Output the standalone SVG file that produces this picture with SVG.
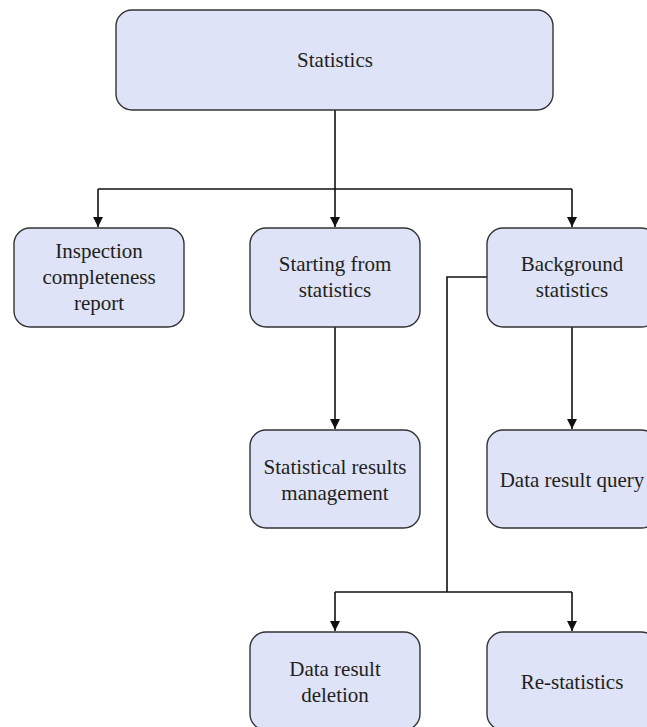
<svg xmlns="http://www.w3.org/2000/svg" width="647" height="727" viewBox="0 0 647 727">
  <style>
    .box { fill: #dfe3f7; stroke: #333333; stroke-width: 1.4; }
    .label { font-family: "Liberation Serif", "DejaVu Serif", serif; font-size: 21px; fill: #231f20; text-anchor: middle; }
    .wire { fill: none; stroke: #111111; stroke-width: 1.6; }
  </style>
  <defs>
    <marker id="arrow" viewBox="0 0 10 10" refX="10" refY="5" markerWidth="10" markerHeight="10" markerUnits="userSpaceOnUse" orient="auto">
      <path d="M0,0 L10,5 L0,10 Z" fill="#111111"/>
    </marker>
  </defs>

  <rect width="647" height="727" fill="#ffffff"/>

  <!-- connectors -->
  <g id="connectors">
    <path class="wire" d="M335,110 V189"/>
    <path class="wire" d="M98,189 H572"/>
    <path class="wire" d="M98,189 V227" marker-end="url(#arrow)"/>
    <path class="wire" d="M335,189 V227" marker-end="url(#arrow)"/>
    <path class="wire" d="M572,189 V227" marker-end="url(#arrow)"/>
    <path class="wire" d="M335,327 V429" marker-end="url(#arrow)"/>
    <path class="wire" d="M572,327 V429" marker-end="url(#arrow)"/>
    <path class="wire" d="M487,277 H447 V592"/>
    <path class="wire" d="M335,592 H572"/>
    <path class="wire" d="M335,592 V631" marker-end="url(#arrow)"/>
    <path class="wire" d="M572,592 V631" marker-end="url(#arrow)"/>
  </g>

  <g id="statistics">
    <rect class="box" x="116" y="10" width="437" height="100" rx="16"/>
    <text class="label" x="335" y="67">Statistics</text>
  </g>

  <g id="inspection-report">
    <rect class="box" x="14" y="228" width="170" height="99" rx="16"/>
    <text class="label" x="99" y="258">Inspection</text>
    <text class="label" x="99" y="284">completeness</text>
    <text class="label" x="99" y="310">report</text>
  </g>

  <g id="starting-from-statistics">
    <rect class="box" x="250" y="228" width="170" height="99" rx="16"/>
    <text class="label" x="335" y="271">Starting from</text>
    <text class="label" x="335" y="297">statistics</text>
  </g>

  <g id="background-statistics">
    <rect class="box" x="487" y="228" width="170" height="99" rx="16"/>
    <text class="label" x="572" y="271">Background</text>
    <text class="label" x="572" y="297">statistics</text>
  </g>

  <g id="results-management">
    <rect class="box" x="250" y="430" width="170" height="98" rx="16"/>
    <text class="label" x="335" y="474">Statistical results</text>
    <text class="label" x="335" y="500">management</text>
  </g>

  <g id="result-query">
    <rect class="box" x="487" y="430" width="170" height="98" rx="16"/>
    <text class="label" x="572" y="487">Data result query</text>
  </g>

  <g id="result-deletion">
    <rect class="box" x="250" y="632" width="170" height="98" rx="16"/>
    <text class="label" x="335" y="676">Data result</text>
    <text class="label" x="335" y="702">deletion</text>
  </g>

  <g id="re-statistics">
    <rect class="box" x="487" y="632" width="170" height="98" rx="16"/>
    <text class="label" x="572" y="689">Re-statistics</text>
  </g>
</svg>
